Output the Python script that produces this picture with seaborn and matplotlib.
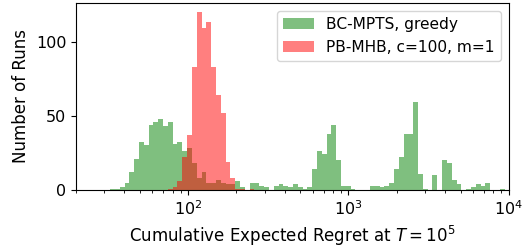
import numpy as np
import pandas as pd
import matplotlib
matplotlib.use('Agg')
import matplotlib.pyplot as plt
from matplotlib.ticker import MultipleLocator
import seaborn as sns

plt.rcParams['font.size'] = 12
plt.rcParams['xtick.labelsize'] = 11.5
plt.rcParams['ytick.labelsize'] = 11.5
plt.rcParams['legend.fontsize'] = 11.1

# log10 bin range shared by both histograms
bin_lo, bin_hi, n_bins = 1.514, 4.004, 83

# counts per bin
bc_mpts_counts = [1, 1, 2, 5, 12, 21, 32, 30, 44, 46, 48, 43, 46, 31, 32, 26, 28, 18, 8, 12,
                  5, 5, 7, 5, 4, 4, 6, 2, 0, 5, 5, 3, 2, 0, 3, 4, 3, 2, 4, 2,
                  1, 2, 14, 26, 24, 38, 44, 20, 3, 3, 1, 0, 0, 0, 3, 3, 2, 3, 5, 14,
                  22, 38, 38, 59, 11, 1, 0, 10, 0, 20, 18, 7, 4, 0, 1, 2, 4, 3, 5, 0,
                  0, 1, 0]
pb_mhb_counts = [0, 0, 0, 0, 0, 0, 0, 0, 0, 0, 0, 0, 1, 2, 6, 22, 37, 83, 120, 109,
                 113, 83, 64, 52, 19, 8, 1, 1, 0, 1, 0, 0, 0, 0, 0, 0, 0, 0, 0, 0,
                 0, 0, 0, 0, 0, 0, 0, 0, 0, 0, 0, 0, 0, 0, 0, 0, 0, 0, 0, 0,
                 0, 0, 0, 0, 0, 0, 0, 0, 0, 0, 0, 0, 0, 0, 0, 0, 0, 0, 0, 0,
                 0, 0, 0]

labels = ["BC-MPTS, greedy", "PB-MHB, c=100, m=1"]
colors = ["green", "red"]

edges = np.logspace(bin_lo, bin_hi, n_bins + 1)
centers = np.sqrt(edges[:-1] * edges[1:])

fig, ax = plt.subplots(figsize=(5.24, 2.49), dpi=100)
fig.subplots_adjust(left=0.145, right=0.971, bottom=0.237, top=0.988)

for counts, lab, col in zip([bc_mpts_counts, pb_mhb_counts], labels, colors):
    df = pd.DataFrame({'regret': centers, 'runs': counts})
    sns.histplot(data=df, x='regret', weights='runs', bins=list(edges), color=col,
                 alpha=0.5, edgecolor='none', linewidth=0, label=lab, ax=ax)

ax.set_xscale('log')
ax.set_xlim(20, 1e4)
ax.yaxis.set_major_locator(MultipleLocator(50))
ax.set_xlabel('Cumulative Expected Regret at $T = 10^5$')
ax.set_ylabel('Number of Runs')
ax.legend(loc='upper right')

fig.savefig('out.png', dpi=100)
